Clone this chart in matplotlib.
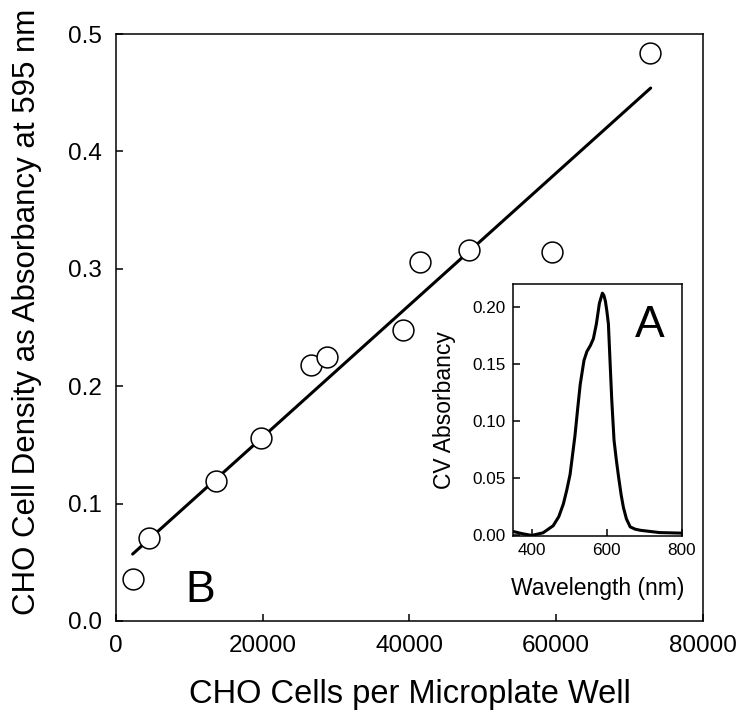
import numpy as np
import matplotlib
matplotlib.use('Agg')
import matplotlib.pyplot as plt

plt.rcParams['font.family'] = ['Liberation Sans', 'DejaVu Sans']

# main panel: cells per well vs absorbancy at 595 nm
cells = [2300, 4540, 13630, 19760, 26580, 28700, 39100, 41430, 48100, 59370, 72780]
absorb = [0.036, 0.071, 0.119, 0.156, 0.218, 0.225, 0.248, 0.306, 0.316, 0.314, 0.484]

# regression line as drawn
fit_x = [2270, 72870]
fit_y = [0.057, 0.454]

# inset: crystal violet spectrum
wl = [350, 375, 400, 430, 457, 472, 484, 493, 502, 515, 522, 529, 539, 547, 556,
      564, 572, 580, 588, 592, 596, 600, 604, 608, 613, 619, 625, 631, 638, 644,
      652, 662, 675, 689, 740, 800]
cv = [0.003, 0.001, -0.0005, 0.0018, 0.008, 0.016, 0.027, 0.039, 0.053, 0.087,
      0.110, 0.132, 0.153, 0.161, 0.166, 0.172, 0.185, 0.203, 0.212, 0.210,
      0.205, 0.196, 0.185, 0.155, 0.118, 0.083, 0.066, 0.051, 0.035, 0.024,
      0.014, 0.007, 0.005, 0.004, 0.002, 0.0015]

fig = plt.figure(figsize=(7.41, 7.21), dpi=100)
ax = fig.add_axes([0.1565, 0.1387, 0.7922, 0.8141])

ax.plot(fit_x, fit_y, color='k', lw=2.2, solid_capstyle='round', zorder=2)
ax.plot(cells, absorb, 'o', ms=15, mfc='white', mec='k', mew=1.1, zorder=3)

ax.set_xlim(0, 80000)
ax.set_ylim(0, 0.5)
ax.set_xticks([0, 20000, 40000, 60000, 80000])
ax.set_yticks([0.0, 0.1, 0.2, 0.3, 0.4, 0.5])
ax.set_yticklabels(['0.0', '0.1', '0.2', '0.3', '0.4', '0.5'])
ax.tick_params(direction='in', length=5, width=1.1, labelsize=17.5, pad=10)
for s in ax.spines.values():
    s.set_linewidth(1.1)
ax.set_xlabel('CHO Cells per Microplate Well', fontsize=23.5, labelpad=16)
ax.set_ylabel('CHO Cell Density as Absorbancy at 595 nm', fontsize=22.5)
ax.yaxis.set_label_coords(-0.126, 0.526)
ax.text(0.143, 0.032, 'B', transform=ax.transAxes, fontsize=32,
        ha='center', va='baseline')

# inset
ins = fig.add_axes([0.6923, 0.2566, 0.2281, 0.3495])
ins.plot(wl, cv, color='k', lw=2.2, solid_joinstyle='round')
ins.set_xlim(350, 800)
ins.set_ylim(-0.001, 0.22)
ins.set_xticks([400, 600, 800])
ins.set_yticks([0.0, 0.05, 0.10, 0.15, 0.20])
ins.set_yticklabels(['0.00', '0.05', '0.10', '0.15', '0.20'])
ins.tick_params(direction='in', length=5, width=1.1, labelsize=12.3, pad=5)
for s in ins.spines.values():
    s.set_linewidth(1.1)
ins.set_xlabel('Wavelength (nm)', fontsize=16.5, labelpad=14)
ins.set_ylabel('CV Absorbancy', fontsize=16.5, labelpad=12)
ins.text(0.81, 0.79, 'A', transform=ins.transAxes, fontsize=32,
         ha='center', va='baseline')

fig.savefig('out.png', dpi=100)
